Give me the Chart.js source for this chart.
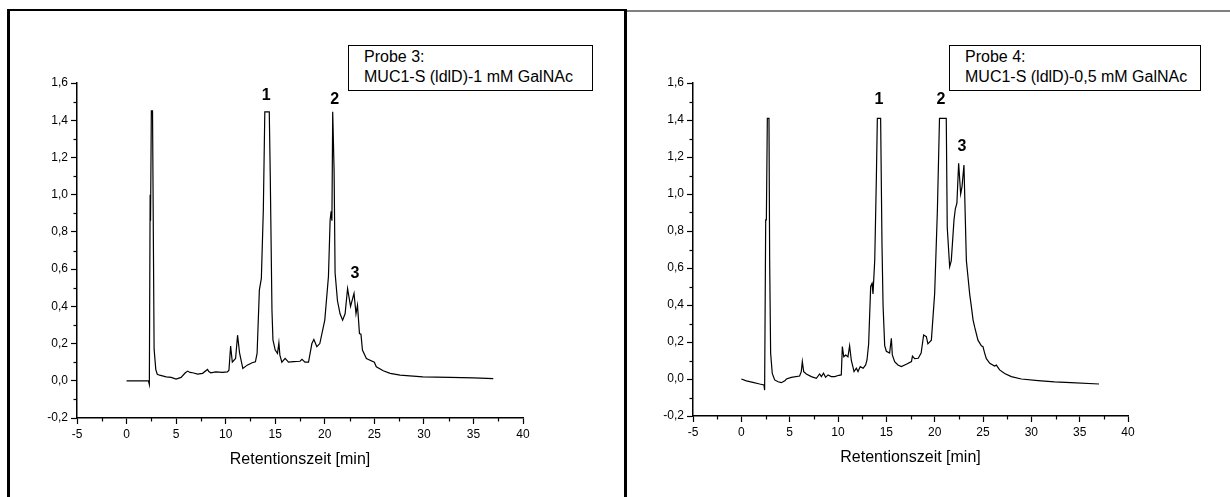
<!DOCTYPE html>
<html>
<head>
<meta charset="utf-8">
<script src="https://cdn.jsdelivr.net/npm/chart.js@4/dist/chart.umd.min.js"></script>
<style>
  body { margin: 0; background: #fff; width: 1230px; height: 497px; overflow: hidden; position: relative; font-family: "Liberation Sans", Arial, sans-serif; }
  canvas { position: absolute; top: 0; }
  #leftFrame { position: absolute; left: 7px; top: 9px; width: 614px; height: 500px; border-left: 3px solid #000; border-top: 2px solid #000; border-right: 3px solid #000; }
  #rightFrame { position: absolute; left: 627px; top: 10px; width: 603px; border-top: 2px solid #808080; }
  .legendBox { position: absolute; top: 45px; height: 43px; border: 1px solid #000; background: #fff; font-size: 16px; line-height: 20px; padding-top: 1px; color: #000; box-sizing: content-box; }
</style>
</head>
<body>
<div id="leftFrame"></div>
<div id="rightFrame"></div>
<canvas id="probe3" width="615" height="497" style="left:0px"></canvas>
<canvas id="probe4" width="615" height="497" style="left:615px"></canvas>
<div class="legendBox" style="left:348px; width:228px; padding-left:15px;">Probe 3:<br>MUC1-S (ldlD)-1 mM GalNAc</div>
<div class="legendBox" style="left:949px; width:235px; padding-left:15px;">Probe 4:<br>MUC1-S (ldlD)-0,5 mM GalNAc</div>
<script>
// Probe 3 chromatogram (retention time in min, absorbance)
const probe3Time = [0, 2.2, 2.3, 2.38, 2.42, 2.5, 2.62, 2.78, 2.95, 3.1, 3.33, 4.0, 4.5, 5.0, 5.5, 5.93, 6.17, 6.4, 6.67, 7.17, 7.67, 8.17, 8.3, 8.5, 9.0, 9.67, 10.17, 10.33, 10.5, 10.67, 11.0, 11.2, 11.4, 11.73, 12.17, 12.67, 13.0, 13.17, 13.4, 13.6, 13.8, 13.95, 14.4, 14.5, 14.67, 14.77, 15.0, 15.23, 15.37, 15.47, 15.67, 16.0, 16.34, 16.85, 17.5, 17.7, 18.0, 18.36, 18.7, 18.9, 19.2, 19.5, 20.0, 20.37, 20.54, 20.64, 20.72, 20.8, 20.94, 21.04, 21.28, 21.54, 21.8, 22.05, 22.3, 22.6, 22.95, 23.15, 23.3, 23.5, 23.65, 23.8, 24.2, 25.0, 25.2, 25.9, 26.6, 27.6, 29.9, 32.6, 35.0, 37.0];
const probe3Signal = [0.0, 0.0, -0.02, 1.0, 0.86, 1.45, 1.45, 0.17, 0.06, 0.035, 0.03, 0.021, 0.018, 0.009, 0.018, 0.043, 0.052, 0.045, 0.043, 0.036, 0.04, 0.061, 0.05, 0.043, 0.048, 0.045, 0.048, 0.057, 0.186, 0.1, 0.12, 0.245, 0.15, 0.066, 0.084, 0.097, 0.102, 0.147, 0.487, 0.55, 0.917, 1.445, 1.445, 1.1, 0.38, 0.22, 0.165, 0.147, 0.204, 0.138, 0.1, 0.12, 0.1, 0.103, 0.105, 0.115, 0.1, 0.1, 0.2, 0.222, 0.183, 0.2, 0.326, 0.56, 0.863, 0.91, 0.86, 1.445, 1.13, 0.58, 0.43, 0.36, 0.326, 0.36, 0.496, 0.4, 0.47, 0.36, 0.406, 0.254, 0.25, 0.165, 0.12, 0.1, 0.075, 0.054, 0.04, 0.03, 0.021, 0.018, 0.016, 0.012];

// Probe 4 chromatogram
const probe4Time = [0, 0.52, 1.2, 1.9, 2.34, 2.41, 2.52, 2.59, 2.69, 2.86, 2.93, 3.03, 3.2, 3.45, 3.8, 4.14, 4.5, 4.66, 5.17, 6.03, 6.2, 6.31, 6.45, 6.72, 7.24, 7.76, 8.1, 8.28, 8.5, 8.72, 8.97, 9.3, 9.66, 10.1, 10.34, 10.45, 10.6, 10.8, 11.03, 11.2, 11.38, 11.66, 11.9, 12.07, 12.3, 12.6, 12.86, 13.0, 13.17, 13.38, 13.52, 13.62, 13.8, 13.97, 14.07, 14.41, 14.55, 14.66, 14.83, 15.0, 15.34, 15.52, 15.62, 15.86, 16.2, 16.55, 17.07, 17.6, 17.7, 17.93, 18.3, 18.6, 18.86, 19.14, 19.3, 19.66, 20.0, 20.28, 20.5, 21.2, 21.3, 21.55, 21.72, 22.0, 22.14, 22.3, 22.48, 22.69, 22.83, 23.03, 23.28, 23.45, 23.62, 23.8, 23.97, 24.14, 24.48, 24.83, 25.0, 25.17, 25.35, 25.7, 26.2, 26.38, 26.72, 27.24, 27.93, 28.97, 30.7, 32.4, 34.1, 37.0];
const probe4Signal = [0.0, -0.01, -0.018, -0.027, -0.032, -0.06, 0.86, 0.86, 1.409, 1.409, 0.64, 0.14, 0.03, -0.005, -0.015, -0.02, -0.01, 0.0, 0.009, 0.016, 0.04, 0.094, 0.04, 0.027, 0.013, 0.004, 0.027, 0.013, 0.031, 0.009, 0.022, 0.013, 0.013, 0.02, 0.022, 0.175, 0.12, 0.13, 0.12, 0.18, 0.1, 0.04, 0.058, 0.04, 0.067, 0.058, 0.076, 0.103, 0.19, 0.5, 0.517, 0.46, 0.64, 1.09, 1.409, 1.409, 0.73, 0.4, 0.18, 0.15, 0.14, 0.22, 0.13, 0.094, 0.076, 0.067, 0.08, 0.094, 0.124, 0.11, 0.112, 0.14, 0.238, 0.229, 0.19, 0.21, 0.463, 0.91, 1.409, 1.409, 0.82, 0.607, 0.64, 0.86, 0.92, 0.95, 1.166, 1.0, 1.04, 1.157, 0.64, 0.55, 0.46, 0.39, 0.32, 0.28, 0.21, 0.18, 0.175, 0.14, 0.11, 0.085, 0.07, 0.075, 0.049, 0.03, 0.013, 0.0, -0.009, -0.016, -0.02, -0.027];

// peak numbering (label text and where it sits, in data units)
const peakNames = ["1", "2", "3"];
const probe3PeakTime = [14.1, 21.0, 23.05];
const probe3PeakLevel = [1.535, 1.512, 0.574];
const probe4PeakTime = [14.24, 20.66, 22.83];
const probe4PeakLevel = [1.51, 1.51, 1.255];

// axis ticks
const timeTicks = [-5, 0, 5, 10, 15, 20, 25, 30, 35, 40];
const signalTicks = [-0.2, 0, 0.2, 0.4, 0.6, 0.8, 1.0, 1.2, 1.4, 1.6];

const FONT = '"Liberation Sans", Arial, sans-serif';

// minor ticks + peak labels
const chromExtras = {
  id: "chromExtras",
  afterDraw(chart, args, opts) {
    const { ctx } = chart;
    const x = chart.scales.x, y = chart.scales.y;
    ctx.save();
    ctx.strokeStyle = "#000";
    ctx.lineWidth = 1.2;
    for (let i = 0; i < timeTicks.length - 1; i++) {
      const px = Math.round(x.getPixelForValue((timeTicks[i] + timeTicks[i + 1]) / 2)) + 0.5;
      ctx.beginPath();
      ctx.moveTo(px, y.bottom);
      ctx.lineTo(px, y.bottom + 3.5);
      ctx.stroke();
    }
    for (let i = 0; i < signalTicks.length - 1; i++) {
      const py = Math.round(y.getPixelForValue((signalTicks[i] + signalTicks[i + 1]) / 2)) + 0.5;
      ctx.beginPath();
      ctx.moveTo(x.left, py);
      ctx.lineTo(x.left - 3.5, py);
      ctx.stroke();
    }
    ctx.fillStyle = "#000";
    ctx.font = "bold 16px " + FONT;
    ctx.textAlign = "center";
    ctx.textBaseline = "middle";
    opts.names.forEach((t, i) => {
      ctx.fillText(t, x.getPixelForValue(opts.times[i]), y.getPixelForValue(opts.levels[i]));
    });
    ctx.restore();
  },
};

function makeChart(id, time, signal, peakTime, peakLevel, pad) {
  const points = time.map((t, i) => ({ x: t, y: signal[i] }));
  return new Chart(document.getElementById(id), {
    type: "line",
    data: {
      datasets: [
        {
          data: points,
          borderColor: "#000",
          borderWidth: 1.2,
          pointRadius: 0,
          tension: 0,
          fill: false,
        },
      ],
    },
    options: {
      responsive: false,
      animation: false,
      devicePixelRatio: 1,
      layout: { padding: pad },
      plugins: {
        legend: { display: false },
        tooltip: { enabled: false },
        chromExtras: { names: peakNames, times: peakTime, levels: peakLevel },
      },
      scales: {
        x: {
          type: "linear",
          min: timeTicks[0],
          max: timeTicks[timeTicks.length - 1],
          afterBuildTicks: (s) => { s.ticks = timeTicks.map((v) => ({ value: v })); },
          ticks: { color: "#000", font: { family: FONT, size: 12 }, padding: 3, maxRotation: 0, autoSkip: false },
          grid: { drawOnChartArea: false, tickLength: 6, color: "#000", tickWidth: 1.2 },
          border: { color: "#000", width: 1.5 },
          title: { display: true, text: "Retentionszeit [min]", color: "#000", font: { family: FONT, size: 16 }, padding: { top: 0, bottom: 9 } },
          afterFit: (s) => { s.height = 60; },
        },
        y: {
          type: "linear",
          min: signalTicks[0],
          max: signalTicks[signalTicks.length - 1],
          afterBuildTicks: (s) => { s.ticks = signalTicks.map((v) => ({ value: v })); },
          ticks: {
            color: "#000",
            font: { family: FONT, size: 12 },
            padding: 3,
            callback: (v) => (Math.abs(v) < 1e-9 ? "0,0" : v.toFixed(1).replace(".", ",")),
          },
          grid: { drawOnChartArea: false, tickLength: 6, color: "#000", tickWidth: 1.2 },
          border: { color: "#000", width: 1.5 },
          afterFit: (s) => { s.width = 50; },
        },
      },
    },
    plugins: [chromExtras],
  });
}

makeChart("probe3", probe3Time, probe3Signal, probe3PeakTime, probe3PeakLevel, { left: 27, right: 92, top: 83, bottom: 19 });
makeChart("probe4", probe4Time, probe4Signal, probe4PeakTime, probe4PeakLevel, { left: 28, right: 102, top: 83, bottom: 21 });
</script>
</body>
</html>
